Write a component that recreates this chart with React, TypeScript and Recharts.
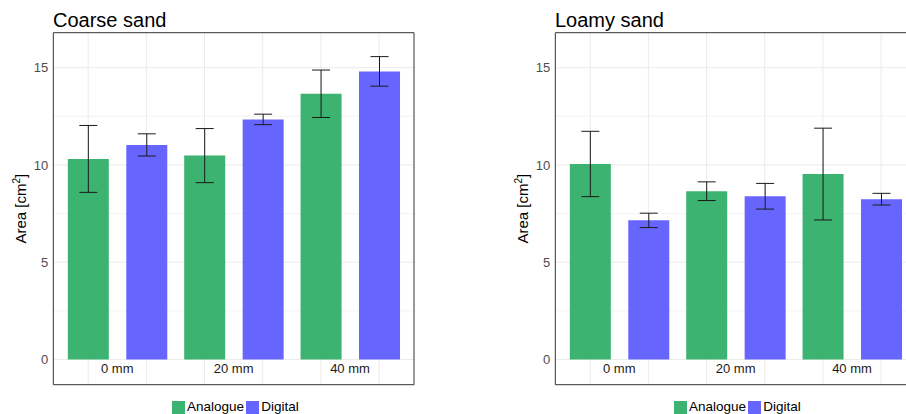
import React from 'react';
import {
  BarChart,
  Bar,
  XAxis,
  YAxis,
  CartesianGrid,
  ErrorBar,
  Legend,
} from 'recharts';

// ---- data ----
const categories = ['0 mm', '20 mm', '40 mm'];
const seriesNames = ['Analogue', 'Digital'];
const seriesColors = ['#3CB371', '#6666FF'];

const coarseAnalogue = [10.31, 10.48, 13.66];
const coarseAnalogueErr = [1.72, 1.39, 1.22];
const coarseDigital = [11.03, 12.34, 14.81];
const coarseDigitalErr = [0.57, 0.27, 0.76];

const loamyAnalogue = [10.05, 8.65, 9.53];
const loamyAnalogueErr = [1.68, 0.48, 2.36];
const loamyDigital = [7.15, 8.39, 8.24];
const loamyDigitalErr = [0.37, 0.66, 0.3];

const yTicks = [0, 5, 10, 15];
const yMinorTicks = [2.5, 7.5, 12.5];
const yDomain: [number, number] = [-1.3, 16.8];
// bar centres inside each category band (fractions of the band)
const barCentreFractions = [0.25, 0.75];

const FONT = '"Liberation Sans", Arial, Helvetica, sans-serif';
const BORDER = '#333333';
const X_PAD = 5.8;

function buildRows(a: number[], ae: number[], d: number[], de: number[]) {
  return categories.map((c, i) => ({
    cat: c,
    Analogue: a[i],
    analogueErr: ae[i],
    Digital: d[i],
    digitalErr: de[i],
  }));
}

const CatTick = (props: any) => {
  const { x, y, payload } = props;
  return (
    <text x={x} y={y - 12.2} textAnchor="middle" fontSize={13} fill="#1a1a1a" fontFamily={FONT}>
      {payload && payload.value}
    </text>
  );
};

const YLabel = (props: any) => {
  const vb = props.viewBox || {};
  const cy = vb.height ? vb.y + vb.height / 2 : 208.7;
  const x = 26;
  return (
    <text
      x={x}
      y={cy}
      transform={`rotate(-90, ${x}, ${cy})`}
      textAnchor="middle"
      fontSize={15}
      fill="#000"
      fontFamily={FONT}
    >
      Area [cm
      <tspan dy={-6} fontSize={10}>2</tspan>
      <tspan dy={6}>]</tspan>
    </text>
  );
};

const LegendContent = () => (
  <div style={{ display: 'flex', alignItems: 'center', fontFamily: FONT, fontSize: 13.5, color: '#000', whiteSpace: 'nowrap', height: 14 }}>
    {seriesNames.map((n, i) => (
      <div key={n} style={{ display: 'flex', alignItems: 'center', marginLeft: i === 0 ? 0 : 2.3 }}>
        <div style={{ width: 12.5, height: 13, background: seriesColors[i] }} />
        <span style={{ marginLeft: 2.4, lineHeight: '14px' }}>{n}</span>
      </div>
    ))}
  </div>
);

function applyScale(scale: any, v: any): number | undefined {
  if (!scale) return undefined;
  if (typeof scale === 'function') return scale(v);
  if (typeof scale.map === 'function') return scale.map(v);
  return undefined;
}

const verticalGen = (props: any) => {
  const axis = props && props.xAxis;
  const scale = axis && axis.scale;
  let bw = 0;
  if (scale && typeof scale.bandwidth === 'function') bw = scale.bandwidth();
  const out: number[] = [];
  const ok = categories.every((c) => Number.isFinite(applyScale(scale, c) as number));
  if (ok && bw > 0) {
    categories.forEach((c) => {
      const start = applyScale(scale, c) as number;
      barCentreFractions.forEach((f) => out.push(start + bw * f));
    });
    return out;
  }
  // fallback: derive band layout from the plot offset
  const off = props && props.offset;
  if (!off) return [];
  const inner = off.width - 2 * X_PAD;
  const band = inner / categories.length;
  categories.forEach((_, i) => {
    barCentreFractions.forEach((f) => out.push(off.left + X_PAD + band * (i + f)));
  });
  return out;
};

function Panel(props: { title: string; rows: any[]; left: number }) {
  const { title, rows, left } = props;
  return (
    <div style={{ position: 'absolute', left, top: 0, width: 502, height: 414 }}>
      <div
        style={{
          position: 'absolute',
          left: 53,
          top: 10.4,
          fontSize: 20,
          lineHeight: '20px',
          fontFamily: FONT,
          color: '#000',
          whiteSpace: 'nowrap',
        }}
      >
        {title}
      </div>
      <BarChart
        width={502}
        height={414}
        data={rows}
        margin={{ top: 31.7, right: 87, bottom: 28.3, left: 0 }}
        barCategoryGap={8.73}
        barGap={17.45}
      >
        <CartesianGrid
          stroke="#F0F0F0"
          strokeWidth={0.8}
          vertical={false}
          horizontalValues={yMinorTicks}
        />
        <CartesianGrid
          stroke="#EBEBEB"
          strokeWidth={1}
          horizontalValues={yTicks}
          verticalCoordinatesGenerator={verticalGen}
        />
        <XAxis
          dataKey="cat"
          type="category"
          height={1}
          padding={{ left: X_PAD, right: X_PAD }}
          axisLine={{ stroke: BORDER, strokeWidth: 1 }}
          tickLine={false}
          tickSize={0}
          tickMargin={0}
          interval={0}
          tick={(p: any) => <CatTick {...p} />}
        />
        <XAxis
          xAxisId="top"
          dataKey="cat"
          type="category"
          orientation="top"
          height={1}
          axisLine={{ stroke: BORDER, strokeWidth: 1 }}
          tickLine={false}
          tick={false}
        />
        <YAxis
          type="number"
          domain={yDomain}
          ticks={yTicks}
          allowDataOverflow
          width={53.3}
          axisLine={{ stroke: BORDER, strokeWidth: 1 }}
          tickLine={false}
          tickSize={0}
          tickMargin={5}
          tick={{ fontSize: 13, fill: '#4D4D4D', fontFamily: FONT }}
          label={{ content: <YLabel /> }}
        />
        <YAxis
          yAxisId="right"
          orientation="right"
          type="number"
          domain={yDomain}
          allowDataOverflow
          width={1}
          axisLine={{ stroke: BORDER, strokeWidth: 1 }}
          tickLine={false}
          tick={false}
        />
        {seriesNames.map((n, i) => (
          <Bar key={n} dataKey={n} fill={seriesColors[i]} isAnimationActive={false}>
            <ErrorBar
              dataKey={i === 0 ? 'analogueErr' : 'digitalErr'}
              width={9}
              stroke="#1a1a1a"
              strokeWidth={1}
              isAnimationActive={false}
            />
          </Bar>
        ))}
        <Legend
          layout="vertical"
          align="center"
          verticalAlign="middle"
          content={<LegendContent />}
          wrapperStyle={{ top: 400, left: 172, width: 'auto' }}
        />
      </BarChart>
    </div>
  );
}

export default function App() {
  return (
    <div
      style={{
        position: 'absolute',
        left: 0,
        top: 0,
        width: 906,
        height: 414,
        overflow: 'hidden',
        background: '#fff',
      }}
    >
      <Panel title="Coarse sand" rows={buildRows(coarseAnalogue, coarseAnalogueErr, coarseDigital, coarseDigitalErr)} left={0} />
      <Panel title="Loamy sand" rows={buildRows(loamyAnalogue, loamyAnalogueErr, loamyDigital, loamyDigitalErr)} left={502} />
    </div>
  );
}
